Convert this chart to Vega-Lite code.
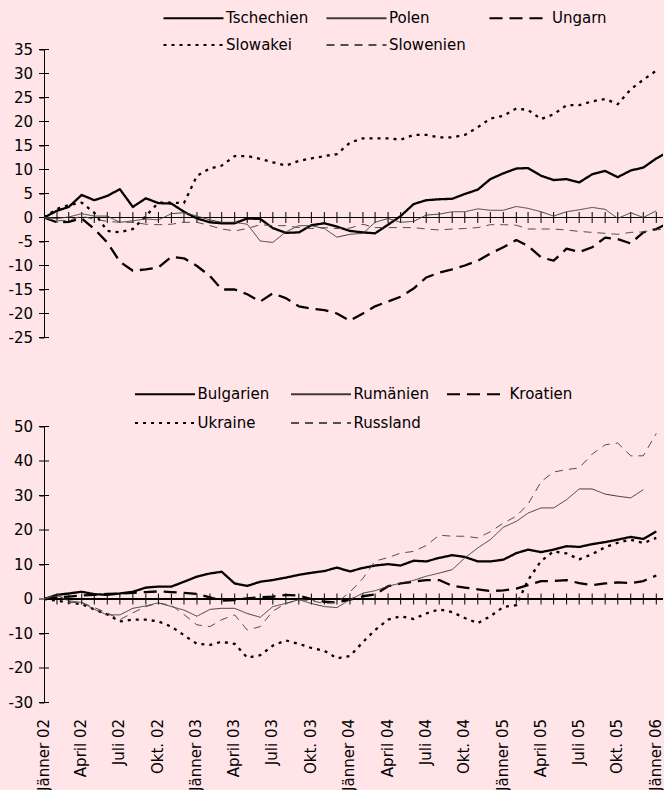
{
  "$schema": "https://vega.github.io/schema/vega-lite/v6.json",
  "background": "#FFE4E8",
  "padding": {"left": 8, "top": 10.5, "right": 0, "bottom": 0},
  "spacing": 41,
  "datasets": {
    "oben": [
      {"d": "2002-01-01", "Tschechien": 0, "Polen": 0, "Ungarn": 0, "Slowakei": 0, "Slowenien": 0},
      {"d": "2002-02-01", "Tschechien": 1.4, "Polen": -0.2, "Ungarn": -1.0, "Slowakei": 1.8, "Slowenien": -0.7},
      {"d": "2002-03-01", "Tschechien": 2.2, "Polen": 0.1, "Ungarn": -0.9, "Slowakei": 2.6, "Slowenien": -0.6},
      {"d": "2002-04-01", "Tschechien": 4.7, "Polen": 0.8, "Ungarn": -0.2, "Slowakei": 3.1, "Slowenien": 0.3},
      {"d": "2002-05-01", "Tschechien": 3.6, "Polen": 0.3, "Ungarn": -2.4, "Slowakei": 1.0, "Slowenien": -0.4},
      {"d": "2002-06-01", "Tschechien": 4.5, "Polen": 0.3, "Ungarn": -5.2, "Slowakei": -2.8, "Slowenien": -0.8},
      {"d": "2002-07-01", "Tschechien": 5.9, "Polen": -1.0, "Ungarn": -9.2, "Slowakei": -3.1, "Slowenien": -1.0},
      {"d": "2002-08-01", "Tschechien": 2.2, "Polen": -0.7, "Ungarn": -11.1, "Slowakei": -2.4, "Slowenien": -1.0},
      {"d": "2002-09-01", "Tschechien": 4.0, "Polen": -0.3, "Ungarn": -10.8, "Slowakei": 0.3, "Slowenien": -1.4},
      {"d": "2002-10-01", "Tschechien": 3.0, "Polen": -0.5, "Ungarn": -10.4, "Slowakei": 3.1, "Slowenien": -1.5},
      {"d": "2002-11-01", "Tschechien": 2.9, "Polen": 0.8, "Ungarn": -8.2, "Slowakei": 3.1, "Slowenien": -1.4},
      {"d": "2002-12-01", "Tschechien": 1.2, "Polen": 1.0, "Ungarn": -8.5, "Slowakei": 3.0, "Slowenien": -1.0},
      {"d": "2003-01-01", "Tschechien": -0.2, "Polen": 0.3, "Ungarn": -10.1, "Slowakei": 8.7, "Slowenien": -1.0},
      {"d": "2003-02-01", "Tschechien": -1.0, "Polen": -0.5, "Ungarn": -12.2, "Slowakei": 10.2, "Slowenien": -1.7},
      {"d": "2003-03-01", "Tschechien": -1.2, "Polen": -1.0, "Ungarn": -15.0, "Slowakei": 10.8, "Slowenien": -2.4},
      {"d": "2003-04-01", "Tschechien": -1.2, "Polen": -1.0, "Ungarn": -15.0, "Slowakei": 12.8, "Slowenien": -2.8},
      {"d": "2003-05-01", "Tschechien": -0.2, "Polen": -1.4, "Ungarn": -16.0, "Slowakei": 12.8, "Slowenien": -2.3},
      {"d": "2003-06-01", "Tschechien": -0.3, "Polen": -4.9, "Ungarn": -17.5, "Slowakei": 12.2, "Slowenien": -1.5},
      {"d": "2003-07-01", "Tschechien": -2.2, "Polen": -5.2, "Ungarn": -15.8, "Slowakei": 11.5, "Slowenien": -1.7},
      {"d": "2003-08-01", "Tschechien": -3.2, "Polen": -3.0, "Ungarn": -16.8, "Slowakei": 10.8, "Slowenien": -1.7},
      {"d": "2003-09-01", "Tschechien": -3.1, "Polen": -1.7, "Ungarn": -18.5, "Slowakei": 11.8, "Slowenien": -2.1},
      {"d": "2003-10-01", "Tschechien": -1.6, "Polen": -1.7, "Ungarn": -19.0, "Slowakei": 12.3, "Slowenien": -2.3},
      {"d": "2003-11-01", "Tschechien": -1.2, "Polen": -2.3, "Ungarn": -19.3, "Slowakei": 12.8, "Slowenien": -2.1},
      {"d": "2003-12-01", "Tschechien": -1.9, "Polen": -4.1, "Ungarn": -20.0, "Slowakei": 13.2, "Slowenien": -2.3},
      {"d": "2004-01-01", "Tschechien": -2.8, "Polen": -3.5, "Ungarn": -21.5, "Slowakei": 15.6, "Slowenien": -2.2},
      {"d": "2004-02-01", "Tschechien": -3.1, "Polen": -3.3, "Ungarn": -20.0, "Slowakei": 16.5, "Slowenien": -1.4},
      {"d": "2004-03-01", "Tschechien": -3.3, "Polen": -1.0, "Ungarn": -18.5, "Slowakei": 16.5, "Slowenien": -2.1},
      {"d": "2004-04-01", "Tschechien": -1.5, "Polen": -0.2, "Ungarn": -17.5, "Slowakei": 16.5, "Slowenien": -2.1},
      {"d": "2004-05-01", "Tschechien": 0.3, "Polen": -1.0, "Ungarn": -16.5, "Slowakei": 16.2, "Slowenien": -2.1},
      {"d": "2004-06-01", "Tschechien": 2.8, "Polen": -0.8, "Ungarn": -14.8, "Slowakei": 17.2, "Slowenien": -2.1},
      {"d": "2004-07-01", "Tschechien": 3.6, "Polen": 0.5, "Ungarn": -12.5, "Slowakei": 17.2, "Slowenien": -2.4},
      {"d": "2004-08-01", "Tschechien": 3.8, "Polen": 0.7, "Ungarn": -11.5, "Slowakei": 16.7, "Slowenien": -2.6},
      {"d": "2004-09-01", "Tschechien": 3.9, "Polen": 1.2, "Ungarn": -10.8, "Slowakei": 16.7, "Slowenien": -2.4},
      {"d": "2004-10-01", "Tschechien": 4.9, "Polen": 1.2, "Ungarn": -10.0, "Slowakei": 17.2, "Slowenien": -2.3},
      {"d": "2004-11-01", "Tschechien": 5.8, "Polen": 1.8, "Ungarn": -9.0, "Slowakei": 18.8, "Slowenien": -2.1},
      {"d": "2004-12-01", "Tschechien": 8.0, "Polen": 1.5, "Ungarn": -7.5, "Slowakei": 20.6, "Slowenien": -1.5},
      {"d": "2005-01-01", "Tschechien": 9.2, "Polen": 1.5, "Ungarn": -6.2, "Slowakei": 21.2, "Slowenien": -1.5},
      {"d": "2005-02-01", "Tschechien": 10.2, "Polen": 2.3, "Ungarn": -4.7, "Slowakei": 22.7, "Slowenien": -1.6},
      {"d": "2005-03-01", "Tschechien": 10.3, "Polen": 1.9, "Ungarn": -5.9, "Slowakei": 22.4, "Slowenien": -2.4},
      {"d": "2005-04-01", "Tschechien": 8.7, "Polen": 1.2, "Ungarn": -8.3, "Slowakei": 20.5, "Slowenien": -2.4},
      {"d": "2005-05-01", "Tschechien": 7.8, "Polen": 0.3, "Ungarn": -9.0, "Slowakei": 21.5, "Slowenien": -2.4},
      {"d": "2005-06-01", "Tschechien": 8.0, "Polen": 1.2, "Ungarn": -6.5, "Slowakei": 23.4, "Slowenien": -2.6},
      {"d": "2005-07-01", "Tschechien": 7.3, "Polen": 1.6, "Ungarn": -7.2, "Slowakei": 23.4, "Slowenien": -2.9},
      {"d": "2005-08-01", "Tschechien": 9.0, "Polen": 2.1, "Ungarn": -6.2, "Slowakei": 24.2, "Slowenien": -3.1},
      {"d": "2005-09-01", "Tschechien": 9.7, "Polen": 1.7, "Ungarn": -4.2, "Slowakei": 24.7, "Slowenien": -3.3},
      {"d": "2005-10-01", "Tschechien": 8.4, "Polen": -0.2, "Ungarn": -4.5, "Slowakei": 23.6, "Slowenien": -3.5},
      {"d": "2005-11-01", "Tschechien": 9.8, "Polen": 1.0, "Ungarn": -5.4, "Slowakei": 26.7, "Slowenien": -3.1},
      {"d": "2005-12-01", "Tschechien": 10.4, "Polen": 0.0, "Ungarn": -3.1, "Slowakei": 28.7, "Slowenien": -3.0},
      {"d": "2006-01-01", "Tschechien": 12.3, "Polen": 1.4, "Ungarn": -2.4, "Slowakei": 30.6, "Slowenien": -2.6},
      {"d": "2006-02-01", "Tschechien": 13.8, "Polen": null, "Ungarn": -1.1, "Slowakei": null, "Slowenien": -2.2}
    ],
    "unten": [
      {"d": "2002-01-01", "Bulgarien": 0, "Rumänien": 0, "Kroatien": 0, "Ukraine": 0, "Russland": 0},
      {"d": "2002-02-01", "Bulgarien": 1.2, "Rumänien": 1.0, "Kroatien": 0.5, "Ukraine": -0.5, "Russland": 1.5},
      {"d": "2002-03-01", "Bulgarien": 1.6, "Rumänien": -0.5, "Kroatien": 0.7, "Ukraine": -1.0, "Russland": -1.0},
      {"d": "2002-04-01", "Bulgarien": 2.1, "Rumänien": -1.0, "Kroatien": 1.0, "Ukraine": -1.5, "Russland": -1.0},
      {"d": "2002-05-01", "Bulgarien": 1.4, "Rumänien": -3.0, "Kroatien": 1.2, "Ukraine": -3.0, "Russland": -2.5},
      {"d": "2002-06-01", "Bulgarien": 1.2, "Rumänien": -4.6, "Kroatien": 1.5, "Ukraine": -4.5, "Russland": -4.0},
      {"d": "2002-07-01", "Bulgarien": 1.6, "Rumänien": -4.6, "Kroatien": 1.6, "Ukraine": -6.5, "Russland": -6.0},
      {"d": "2002-08-01", "Bulgarien": 2.1, "Rumänien": -2.7, "Kroatien": 1.8, "Ukraine": -6.0, "Russland": -4.0},
      {"d": "2002-09-01", "Bulgarien": 3.3, "Rumänien": -2.0, "Kroatien": 2.0, "Ukraine": -6.0, "Russland": -2.2},
      {"d": "2002-10-01", "Bulgarien": 3.6, "Rumänien": -1.1, "Kroatien": 2.2, "Ukraine": -6.5, "Russland": -1.2},
      {"d": "2002-11-01", "Bulgarien": 3.6, "Rumänien": -2.2, "Kroatien": 2.0, "Ukraine": -8.0, "Russland": -1.8},
      {"d": "2002-12-01", "Bulgarien": 5.0, "Rumänien": -3.2, "Kroatien": 1.8, "Ukraine": -10.5, "Russland": -4.5},
      {"d": "2003-01-01", "Bulgarien": 6.5, "Rumänien": -5.0, "Kroatien": 1.5, "Ukraine": -13.0, "Russland": -7.5},
      {"d": "2003-02-01", "Bulgarien": 7.4, "Rumänien": -3.0, "Kroatien": 0.5, "Ukraine": -13.3, "Russland": -8.0},
      {"d": "2003-03-01", "Bulgarien": 7.9, "Rumänien": -2.7, "Kroatien": -0.5, "Ukraine": -12.4, "Russland": -6.0},
      {"d": "2003-04-01", "Bulgarien": 4.5, "Rumänien": -2.7, "Kroatien": -0.3, "Ukraine": -13.0, "Russland": -4.6},
      {"d": "2003-05-01", "Bulgarien": 3.8, "Rumänien": -4.2, "Kroatien": 0.2, "Ukraine": -17.0, "Russland": -9.0},
      {"d": "2003-06-01", "Bulgarien": 5.0, "Rumänien": -5.3, "Kroatien": 0.5, "Ukraine": -16.3, "Russland": -8.0},
      {"d": "2003-07-01", "Bulgarien": 5.5, "Rumänien": -2.2, "Kroatien": 0.7, "Ukraine": -13.5, "Russland": -3.5},
      {"d": "2003-08-01", "Bulgarien": 6.2, "Rumänien": -1.3, "Kroatien": 1.2, "Ukraine": -12.0, "Russland": -1.3},
      {"d": "2003-09-01", "Bulgarien": 7.0, "Rumänien": -0.2, "Kroatien": 1.0, "Ukraine": -13.0, "Russland": -0.2},
      {"d": "2003-10-01", "Bulgarien": 7.6, "Rumänien": -1.3, "Kroatien": 0.0, "Ukraine": -14.2, "Russland": -0.5},
      {"d": "2003-11-01", "Bulgarien": 8.1, "Rumänien": -2.2, "Kroatien": -0.8, "Ukraine": -15.0, "Russland": -1.3},
      {"d": "2003-12-01", "Bulgarien": 9.1, "Rumänien": -2.5, "Kroatien": -1.0, "Ukraine": -17.2, "Russland": -1.0},
      {"d": "2004-01-01", "Bulgarien": 8.0, "Rumänien": -0.2, "Kroatien": -0.2, "Ukraine": -16.5, "Russland": 2.0},
      {"d": "2004-02-01", "Bulgarien": 9.0, "Rumänien": 1.7, "Kroatien": 0.8, "Ukraine": -12.5, "Russland": 6.0},
      {"d": "2004-03-01", "Bulgarien": 9.7, "Rumänien": 2.4, "Kroatien": 1.3, "Ukraine": -9.0, "Russland": 11.0},
      {"d": "2004-04-01", "Bulgarien": 10.1, "Rumänien": 3.7, "Kroatien": 3.7, "Ukraine": -6.0, "Russland": 12.0},
      {"d": "2004-05-01", "Bulgarien": 9.7, "Rumänien": 4.6, "Kroatien": 4.5, "Ukraine": -5.0, "Russland": 13.3},
      {"d": "2004-06-01", "Bulgarien": 11.1, "Rumänien": 5.4, "Kroatien": 5.0, "Ukraine": -5.8, "Russland": 13.8},
      {"d": "2004-07-01", "Bulgarien": 10.9, "Rumänien": 6.6, "Kroatien": 5.5, "Ukraine": -4.2, "Russland": 15.5},
      {"d": "2004-08-01", "Bulgarien": 11.9, "Rumänien": 7.5, "Kroatien": 5.5, "Ukraine": -3.0, "Russland": 18.5},
      {"d": "2004-09-01", "Bulgarien": 12.7, "Rumänien": 8.5, "Kroatien": 3.8, "Ukraine": -3.8, "Russland": 18.2},
      {"d": "2004-10-01", "Bulgarien": 12.2, "Rumänien": 11.9, "Kroatien": 3.3, "Ukraine": -5.5, "Russland": 18.2},
      {"d": "2004-11-01", "Bulgarien": 10.9, "Rumänien": 14.8, "Kroatien": 2.8, "Ukraine": -7.0, "Russland": 17.7},
      {"d": "2004-12-01", "Bulgarien": 10.9, "Rumänien": 17.2, "Kroatien": 2.3, "Ukraine": -5.0, "Russland": 19.5},
      {"d": "2005-01-01", "Bulgarien": 11.4, "Rumänien": 20.8, "Kroatien": 2.5, "Ukraine": -2.3, "Russland": 22.0},
      {"d": "2005-02-01", "Bulgarien": 13.3, "Rumänien": 22.5, "Kroatien": 3.0, "Ukraine": -1.8, "Russland": 24.0},
      {"d": "2005-03-01", "Bulgarien": 14.3, "Rumänien": 24.9, "Kroatien": 4.0, "Ukraine": 5.5, "Russland": 27.5},
      {"d": "2005-04-01", "Bulgarien": 13.6, "Rumänien": 26.4, "Kroatien": 5.2, "Ukraine": 11.0, "Russland": 34.0},
      {"d": "2005-05-01", "Bulgarien": 14.3, "Rumänien": 26.4, "Kroatien": 5.2, "Ukraine": 13.8, "Russland": 36.8},
      {"d": "2005-06-01", "Bulgarien": 15.3, "Rumänien": 28.8, "Kroatien": 5.5, "Ukraine": 13.2, "Russland": 37.5},
      {"d": "2005-07-01", "Bulgarien": 15.1, "Rumänien": 31.9, "Kroatien": 4.6, "Ukraine": 11.5, "Russland": 38.0},
      {"d": "2005-08-01", "Bulgarien": 15.9, "Rumänien": 31.9, "Kroatien": 4.0, "Ukraine": 13.0, "Russland": 42.0},
      {"d": "2005-09-01", "Bulgarien": 16.5, "Rumänien": 30.4, "Kroatien": 4.5, "Ukraine": 15.0, "Russland": 44.7},
      {"d": "2005-10-01", "Bulgarien": 17.2, "Rumänien": 29.8, "Kroatien": 4.8, "Ukraine": 16.3, "Russland": 45.2},
      {"d": "2005-11-01", "Bulgarien": 18.0, "Rumänien": 29.3, "Kroatien": 4.6, "Ukraine": 17.2, "Russland": 41.5},
      {"d": "2005-12-01", "Bulgarien": 17.4, "Rumänien": 31.7, "Kroatien": 5.2, "Ukraine": 16.2, "Russland": 41.5},
      {"d": "2006-01-01", "Bulgarien": 19.6, "Rumänien": null, "Kroatien": 6.8, "Ukraine": 17.7, "Russland": 48.0}
    ],
    "achseOben": [
      {"d": "2002-01-01", "v": -25, "t": "-25"}, {"d": "2002-01-01", "v": -20, "t": "-20"}, {"d": "2002-01-01", "v": -15, "t": "-15"},
      {"d": "2002-01-01", "v": -10, "t": "-10"}, {"d": "2002-01-01", "v": -5, "t": "-5"}, {"d": "2002-01-01", "v": 0, "t": "0"},
      {"d": "2002-01-01", "v": 5, "t": "5"}, {"d": "2002-01-01", "v": 10, "t": "10"}, {"d": "2002-01-01", "v": 15, "t": "15"},
      {"d": "2002-01-01", "v": 20, "t": "20"}, {"d": "2002-01-01", "v": 25, "t": "25"}, {"d": "2002-01-01", "v": 30, "t": "30"},
      {"d": "2002-01-01", "v": 35, "t": "35"}
    ],
    "achseUnten": [
      {"d": "2002-01-01", "v": -30, "t": "-30"}, {"d": "2002-01-01", "v": -20, "t": "-20"}, {"d": "2002-01-01", "v": -10, "t": "-10"},
      {"d": "2002-01-01", "v": 0, "t": "0"}, {"d": "2002-01-01", "v": 10, "t": "10"}, {"d": "2002-01-01", "v": 20, "t": "20"},
      {"d": "2002-01-01", "v": 30, "t": "30"}, {"d": "2002-01-01", "v": 40, "t": "40"}, {"d": "2002-01-01", "v": 50, "t": "50"}
    ]
  },
  "vconcat": [
    {
      "width": 619,
      "height": 288,
      "layer": [
        {
          "data": {"name": "oben"},
          "mark": {"type": "rule", "color": "#000", "strokeWidth": 1},
          "encoding": {"y": {"datum": 0, "type": "quantitative"}}
        },
        {
          "data": {"name": "oben"},
          "mark": {"type": "tick", "orient": "vertical", "size": 11, "thickness": 1, "color": "#000", "opacity": 1, "clip": true},
          "encoding": {
            "x": {"field": "d", "type": "temporal", "axis": null},
            "y": {"datum": 0, "type": "quantitative"}
          }
        },
        {
          "data": {"name": "achseOben"},
          "mark": {"type": "tick", "orient": "horizontal", "size": 10, "thickness": 1, "color": "#000", "opacity": 1},
          "encoding": {
            "x": {"field": "d", "type": "temporal", "axis": null},
            "y": {"field": "v", "type": "quantitative"}
          }
        },
        {
          "data": {"name": "achseOben"},
          "mark": {"type": "text", "align": "right", "baseline": "middle", "dx": -11, "font": "DejaVu Sans", "fontSize": 15, "color": "#000"},
          "encoding": {
            "x": {"field": "d", "type": "temporal", "axis": null},
            "y": {"field": "v", "type": "quantitative"},
            "text": {"field": "t", "type": "nominal"}
          }
        },
        {
          "data": {"name": "oben"},
          "transform": [
            {"fold": ["Tschechien", "Polen", "Ungarn", "Slowakei", "Slowenien"], "as": ["land", "wert"]},
            {"filter": "datum.land === 'Tschechien' || datum.land === 'Ungarn' || datum.land === 'Slowakei'"}
          ],
          "mark": {"type": "line", "clip": true, "strokeCap": "butt", "strokeJoin": "round", "strokeWidth": 2.3},
          "encoding": {
            "x": {
              "field": "d", "type": "temporal",
              "scale": {"domain": ["2002-01-01", "2006-01-17"]},
              "axis": null
            },
            "y": {
              "field": "wert", "type": "quantitative",
              "scale": {"domain": [-25, 35], "nice": false, "zero": false},
              "axis": {"title": null, "values": [-25, -20, -15, -10, -5, 0, 5, 10, 15, 20, 25, 30, 35], "grid": false, "tickSize": 5, "labels": false}
            },
            "color": {
              "field": "land", "type": "nominal",
              "scale": {"domain": ["Tschechien", "Polen", "Ungarn", "Slowakei", "Slowenien"], "range": ["#000000", "#3c3c3c", "#000000", "#000000", "#505050"]},
              "legend": {"title": null, "orient": "none", "legendX": 117, "legendY": -39, "direction": "horizontal", "columns": 3, "rowPadding": 11}
            },
            "strokeDash": {
              "field": "land", "type": "nominal",
              "scale": {"domain": ["Tschechien", "Polen", "Ungarn", "Slowakei", "Slowenien"], "range": [[1, 0], [1, 0], [13, 7], [3, 5], [8, 6]]},
              "legend": {"title": null, "orient": "none", "legendX": 117, "legendY": -39, "direction": "horizontal", "columns": 3, "rowPadding": 11}
            }
          }
        },
        {
          "data": {"name": "oben"},
          "transform": [
            {"fold": ["Tschechien", "Polen", "Ungarn", "Slowakei", "Slowenien"], "as": ["land", "wert"]},
            {"filter": "datum.land === 'Polen' || datum.land === 'Slowenien'"}
          ],
          "mark": {"type": "line", "clip": true, "strokeCap": "butt", "strokeJoin": "round", "strokeWidth": 1},
          "encoding": {
            "x": {"field": "d", "type": "temporal", "axis": null},
            "y": {"field": "wert", "type": "quantitative"},
            "color": {"field": "land", "type": "nominal"},
            "strokeDash": {"field": "land", "type": "nominal"}
          }
        }
      ]
    },
    {
      "width": 619,
      "height": 276,
      "layer": [
        {
          "data": {"name": "unten"},
          "mark": {"type": "rule", "color": "#000", "strokeWidth": 1},
          "encoding": {"y": {"datum": 0, "type": "quantitative"}}
        },
        {
          "data": {"name": "unten"},
          "mark": {"type": "tick", "orient": "vertical", "size": 11, "thickness": 1, "color": "#000", "opacity": 1, "clip": true},
          "encoding": {
            "x": {"field": "d", "type": "temporal"},
            "y": {"datum": 0, "type": "quantitative"}
          }
        },
        {
          "data": {"name": "achseUnten"},
          "mark": {"type": "tick", "orient": "horizontal", "size": 10, "thickness": 1, "color": "#000", "opacity": 1},
          "encoding": {
            "x": {"field": "d", "type": "temporal"},
            "y": {"field": "v", "type": "quantitative"}
          }
        },
        {
          "data": {"name": "achseUnten"},
          "mark": {"type": "text", "align": "right", "baseline": "middle", "dx": -11, "font": "DejaVu Sans", "fontSize": 15, "color": "#000"},
          "encoding": {
            "x": {"field": "d", "type": "temporal"},
            "y": {"field": "v", "type": "quantitative"},
            "text": {"field": "t", "type": "nominal"}
          }
        },
        {
          "data": {"name": "unten"},
          "transform": [
            {"fold": ["Bulgarien", "Rumänien", "Kroatien", "Ukraine", "Russland"], "as": ["land", "wert"]},
            {"filter": "datum.land === 'Bulgarien' || datum.land === 'Kroatien' || datum.land === 'Ukraine'"}
          ],
          "mark": {"type": "line", "clip": true, "strokeCap": "butt", "strokeJoin": "round", "strokeWidth": 2.3},
          "encoding": {
            "x": {
              "field": "d", "type": "temporal",
              "scale": {"domain": ["2002-01-01", "2006-01-17"]},
              "axis": {"title": null, "orient": "bottom", "domain": false, "ticks": false, "grid": false, "labelAngle": 270, "labelAlign": "right", "labelBaseline": "middle", "labelPadding": 16, "labelOffset": -1, "labelOverlap": false, "labelFlush": false, "tickCount": {"interval": "month", "step": 3}, "labelExpr": "['Jänner','Februar','März','April','Mai','Juni','Juli','August','September','Okt.','November','Dezember'][month(datum.value)] + ' ' + timeFormat(datum.value, '%y')"}
            },
            "y": {
              "field": "wert", "type": "quantitative",
              "scale": {"domain": [-30, 50], "nice": false, "zero": false},
              "axis": {"title": null, "values": [-30, -20, -10, 0, 10, 20, 30, 40, 50], "grid": false, "tickSize": 5, "labels": false}
            },
            "color": {
              "field": "land", "type": "nominal",
              "scale": {"domain": ["Bulgarien", "Rumänien", "Kroatien", "Ukraine", "Russland"], "range": ["#000000", "#3c3c3c", "#000000", "#000000", "#505050"]},
              "legend": {"title": null, "orient": "none", "legendX": 88.5, "legendY": -40, "direction": "horizontal", "columns": 3, "rowPadding": 13}
            },
            "strokeDash": {
              "field": "land", "type": "nominal",
              "scale": {"domain": ["Bulgarien", "Rumänien", "Kroatien", "Ukraine", "Russland"], "range": [[1, 0], [1, 0], [13, 7], [3, 5], [8, 6]]},
              "legend": {"title": null, "orient": "none", "legendX": 88.5, "legendY": -40, "direction": "horizontal", "columns": 3, "rowPadding": 13}
            }
          }
        },
        {
          "data": {"name": "unten"},
          "transform": [
            {"fold": ["Bulgarien", "Rumänien", "Kroatien", "Ukraine", "Russland"], "as": ["land", "wert"]},
            {"filter": "datum.land === 'Rumänien' || datum.land === 'Russland'"}
          ],
          "mark": {"type": "line", "clip": true, "strokeCap": "butt", "strokeJoin": "round", "strokeWidth": 1},
          "encoding": {
            "x": {"field": "d", "type": "temporal"},
            "y": {"field": "wert", "type": "quantitative"},
            "color": {"field": "land", "type": "nominal"},
            "strokeDash": {"field": "land", "type": "nominal"}
          }
        }
      ]
    }
  ],
  "resolve": {
    "scale": {"x": "independent", "y": "independent", "color": "independent", "strokeDash": "independent"}
  },
  "config": {
    "font": "DejaVu Sans",
    "view": {"stroke": null},
    "axis": {"labelFont": "DejaVu Sans", "labelFontSize": 15, "labelColor": "#000", "domainColor": "#000", "domainWidth": 1, "tickColor": "#000", "tickWidth": 1},
    "legend": {"labelFont": "DejaVu Sans", "labelFontSize": 15, "labelColor": "#000", "labelOffset": 50, "columnPadding": 13, "gridAlign": "all", "padding": 0, "symbolType": "M-1,0H11", "symbolSize": 100, "symbolStrokeWidth": 1.8, "labelLimit": 200}
  }
}
